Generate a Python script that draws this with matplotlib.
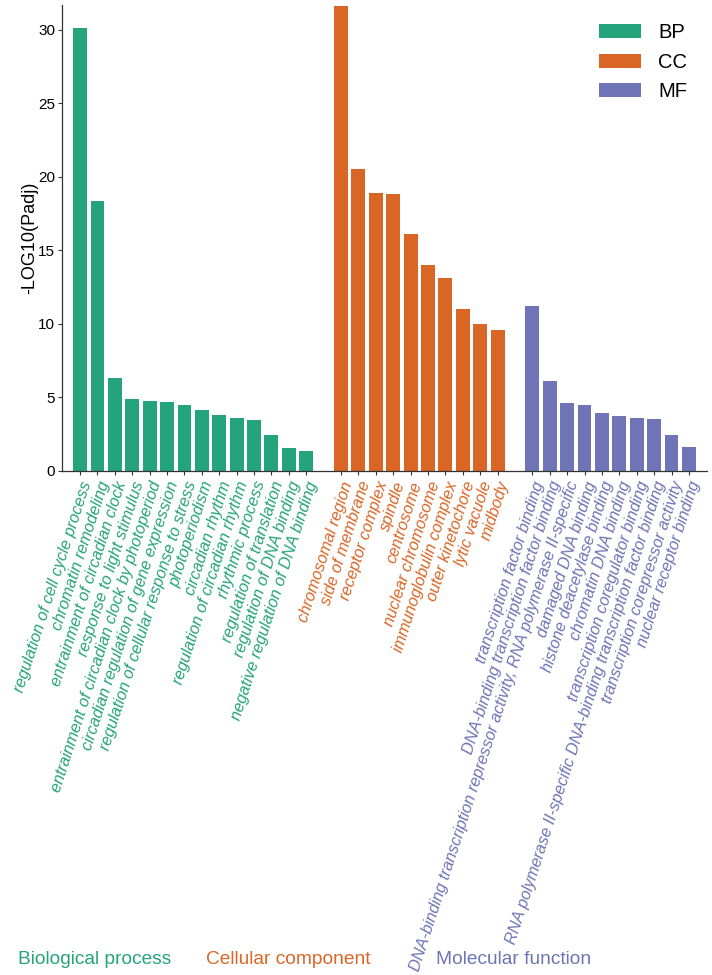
import matplotlib
matplotlib.use("Agg")
import matplotlib.pyplot as plt
from matplotlib.patches import Patch

plt.rcParams['font.family'] = ['Liberation Sans', 'DejaVu Sans']

bp_terms = ["regulation of cell cycle process", "chromatin remodeling",
            "entrainment of circadian clock", "response to light stimulus",
            "entrainment of circadian clock by photoperiod",
            "circadian regulation of gene expression",
            "regulation of cellular response to stress", "photoperiodism",
            "circadian rhythm", "regulation of circadian rhythm",
            "rhythmic process", "regulation of translation",
            "regulation of DNA binding", "negative regulation of DNA binding"]
bp_vals = [30.11, 18.34, 6.30, 4.88, 4.74, 4.67, 4.47, 4.15, 3.81, 3.63, 3.47, 2.45, 1.54, 1.36]

cc_terms = ["chromosomal region", "side of membrane", "receptor complex", "spindle",
            "centrosome", "nuclear chromosome", "immunoglobulin complex",
            "outer kinetochore", "lytic vacuole", "midbody"]
cc_vals = [31.66, 20.54, 18.93, 18.82, 16.12, 14.01, 13.13, 11.00, 9.98, 9.57]

mf_terms = ["transcription factor binding", "DNA-binding transcription factor binding",
            "DNA-binding transcription repressor activity, RNA polymerase II-specific",
            "damaged DNA binding", "histone deacetylase binding", "chromatin DNA binding",
            "transcription coregulator binding",
            "RNA polymerase II-specific DNA-binding transcription factor binding",
            "transcription corepressor activity", "nuclear receptor binding"]
mf_vals = [11.22, 6.12, 4.60, 4.47, 3.95, 3.76, 3.58, 3.54, 2.47, 1.63]

group_names = ["BP", "CC", "MF"]
group_titles = ["Biological process", "Cellular component", "Molecular function"]
colors = ["#25A37B", "#DA6626", "#6E74B5"]

fig = plt.figure(figsize=(7.12, 9.75), dpi=100)
ax = fig.add_axes([62/712, 1-471/975, (707-62)/712, (471-5)/975])

groups = [(bp_terms, bp_vals), (cc_terms, cc_vals), (mf_terms, mf_vals)]
pos = 0
all_pos, all_labels, all_cols = [], [], []
for (terms, vals), col in zip(groups, colors):
    xs = list(range(pos, pos + len(vals)))
    ax.bar(xs, vals, width=0.8, color=col, edgecolor='none')
    all_pos += xs
    all_labels += terms
    all_cols += [col] * len(terms)
    pos += len(vals) + 1

ax.set_xlim(-1.04, all_pos[-1] + 1.04)
ax.set_ylim(0, 31.7)
ax.set_yticks([0, 5, 10, 15, 20, 25, 30])
ax.set_xticks(all_pos)
ax.set_xticklabels(all_labels, rotation=72, ha='right', va='top',
                   rotation_mode='anchor', fontsize=11.7, style='italic')
for lab, c in zip(ax.get_xticklabels(), all_cols):
    lab.set_color(c)
ax.tick_params(axis='x', length=3, width=0.8, color='#333333', pad=3)
ax.tick_params(axis='y', length=3, width=0.8, color='#333333', labelsize=11, pad=2)
for s in ['top', 'right']:
    ax.spines[s].set_visible(False)
for s in ['left', 'bottom']:
    ax.spines[s].set_color('#333333')
    ax.spines[s].set_linewidth(0.9)
ax.set_ylabel("-LOG10(Padj)", fontsize=13, va='center')
ax.yaxis.set_label_coords((30-62)/645, 0.5)

handles = [Patch(facecolor=c, edgecolor='none', label=n) for c, n in zip(colors, group_names)]
fig.legend(handles=handles, loc='upper left', bbox_to_anchor=(599/712, 1-23/975),
           frameon=False, fontsize=14.5, handlelength=2.1, handleheight=0.7,
           handletextpad=0.85, labelspacing=0.53, borderpad=0, borderaxespad=0)

title_x = [18, 206, 436]
for t, c, x in zip(group_titles, colors, title_x):
    fig.text(x/712, 1-960/975, t, color=c, fontsize=13.8, ha='left', va='center')

fig.savefig("out.png", dpi=100)
